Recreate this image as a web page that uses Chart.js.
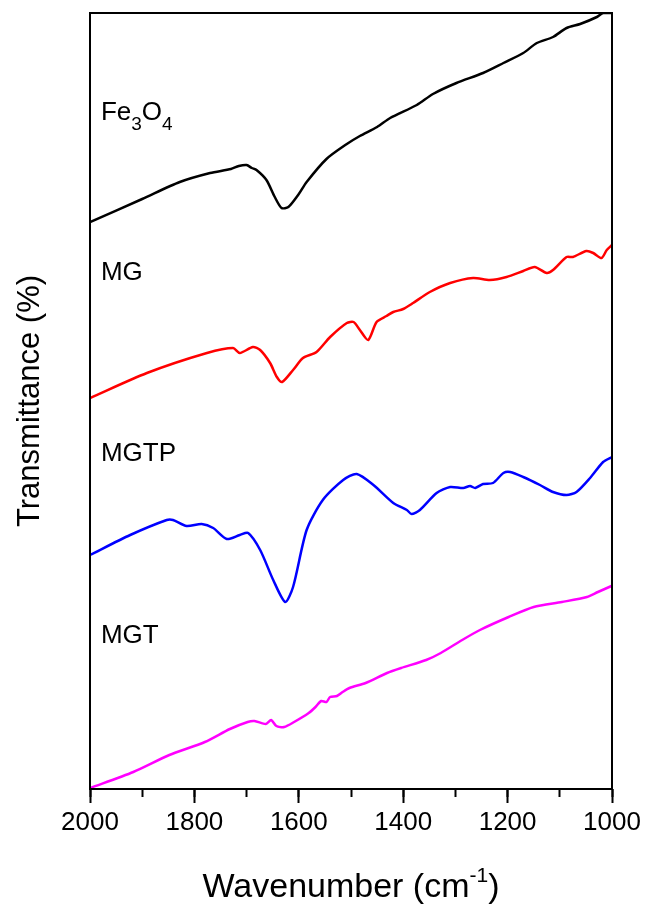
<!DOCTYPE html>
<html>
<head>
<meta charset="utf-8">
<script src="https://cdn.jsdelivr.net/npm/chart.js@4.4.1/dist/chart.umd.min.js"></script>
<style>
  html, body { margin: 0; padding: 0; background: #fff; }
  #wrap { width: 647px; height: 905px; }
</style>
</head>
<body>
<div id="wrap"><canvas id="ftirChart" width="647" height="905"></canvas></div>
<script>
// x axis ticks (wavenumber, cm-1)
var wnTicks = [2000, 1800, 1600, 1400, 1200, 1000];

// spectra (arbitrary transmittance units, stacked)
var fe3o4Wn = [2000, 1900, 1828, 1770, 1730, 1715, 1700, 1690, 1681, 1662, 1646, 1633, 1620, 1600, 1585, 1547, 1508, 1483, 1450, 1425, 1374, 1343, 1298, 1247, 1208, 1170, 1144, 1113, 1087, 1061, 1029, 1017, 1000];
var fe3o4T  = [567, 590, 607, 616, 620, 623, 624, 621, 619, 609, 592, 581, 582, 595, 607, 630, 645, 653, 662, 671, 684, 695, 706, 716, 726, 736, 746, 752, 761, 765, 772, 776, 776];

var mgWn = [2000, 1891, 1776, 1726, 1713, 1688, 1674, 1655, 1642, 1632, 1611, 1592, 1566, 1540, 1508, 1495, 1483, 1467, 1451, 1432, 1419, 1400, 1381, 1349, 1310, 1266, 1234, 1202, 1170, 1148, 1125, 1113, 1087, 1075, 1049, 1036, 1020, 1010, 1000];
var mgT  = [391, 416, 436, 441, 436, 442, 439, 426, 412, 407, 419, 431, 437, 452, 466, 467, 459, 449, 467, 473, 477, 480, 486, 497, 506, 511, 509, 512, 518, 522, 516, 519, 532, 532, 538, 536, 531, 539, 544];

var mgtpWn = [2000, 1923, 1853, 1841, 1815, 1786, 1764, 1738, 1713, 1697, 1674, 1649, 1626, 1611, 1585, 1554, 1515, 1489, 1457, 1419, 1393, 1384, 1368, 1336, 1310, 1285, 1272, 1262, 1247, 1228, 1208, 1195, 1170, 1138, 1113, 1087, 1068, 1042, 1017, 1000];
var mgtpT  = [234, 254, 269, 269, 263, 265, 261, 250, 254, 256, 239, 209, 187, 202, 259, 289, 309, 315, 304, 286, 279, 275, 279, 296, 302, 301, 303, 301, 305, 306, 316, 317, 312, 304, 297, 294, 297, 311, 327, 332];

var mgtWn = [2000, 1917, 1848, 1780, 1732, 1698, 1685, 1663, 1653, 1643, 1628, 1609, 1581, 1568, 1557, 1547, 1540, 1527, 1516, 1503, 1472, 1431, 1404, 1356, 1328, 1287, 1253, 1198, 1150, 1096, 1048, 1027, 1001];
var mgtT  = [1, 17, 34, 47, 60, 67, 68, 65, 69, 63, 62, 67, 76, 82, 88, 87, 92, 93, 97, 101, 106, 116, 121, 129, 136, 149, 159, 172, 182, 187, 192, 197, 203];

// sample names and where their text sits (wavenumber, transmittance)
var sampleNames = ['Fe3O4', 'MG', 'MGTP', 'MGT'];
var nameWn = [1979, 1979, 1979, 1979];
var nameT  = [669, 509, 328, 146];

function toPoints(xs, ys) {
  return xs.map(function(x, i) { return { x: x, y: ys[i] }; });
}

function makeSet(label, xs, ys, color) {
  return {
    label: label,
    data: toPoints(xs, ys),
    borderColor: color,
    backgroundColor: color,
    borderWidth: 2.5,
    pointRadius: 0,
    tension: 0.25,
    fill: false
  };
}

var FONT = "'Liberation Sans', Arial, sans-serif";

// frame round the plot area
var framePlugin = {
  id: 'frame',
  afterDraw: function(chart) {
    var a = chart.chartArea, ctx = chart.ctx;
    ctx.save();
    ctx.strokeStyle = '#000';
    ctx.lineWidth = 2;
    ctx.strokeRect(a.left, a.top, a.right - a.left, a.bottom - a.top);
    ctx.restore();
  }
};

// sample names next to each curve, and the x title with its superscript
var textPlugin = {
  id: 'texts',
  afterDatasetsDraw: function(chart) {
    var ctx = chart.ctx;
    var xs = chart.scales.x, ys = chart.scales.y;
    ctx.save();
    ctx.fillStyle = '#000';
    ctx.textBaseline = 'alphabetic';
    ctx.textAlign = 'left';
    sampleNames.forEach(function(name, i) {
      var px = xs.getPixelForValue(nameWn[i]);
      var py = ys.getPixelForValue(nameT[i]);
      if (name === 'Fe3O4') {
        var parts = [['Fe', 0, 26], ['3', 1, 19], ['O', 0, 26], ['4', 1, 19]];
        parts.forEach(function(p) {
          ctx.font = p[2] + 'px ' + FONT;
          ctx.fillText(p[0], px, py + (p[1] ? 10 : 0));
          px += ctx.measureText(p[0]).width;
        });
      } else {
        ctx.font = '26px ' + FONT;
        ctx.fillText(name, px, py);
      }
    });

    // x axis title
    var a = chart.chartArea;
    var main = 'Wavenumber (cm', sup = '-1', close = ')';
    ctx.font = '34px ' + FONT;
    var w1 = ctx.measureText(main).width, w3 = ctx.measureText(close).width;
    ctx.font = '21px ' + FONT;
    var w2 = ctx.measureText(sup).width;
    var x0 = (a.left + a.right) / 2 - (w1 + w2 + w3) / 2;
    var base = 897;
    ctx.font = '34px ' + FONT;
    ctx.fillText(main, x0, base);
    ctx.font = '21px ' + FONT;
    ctx.fillText(sup, x0 + w1, base - 15);
    ctx.font = '34px ' + FONT;
    ctx.fillText(close, x0 + w1 + w2, base);
    ctx.restore();
  }
};

var ctx = document.getElementById('ftirChart').getContext('2d');
var ftirChart = new Chart(ctx, {
  type: 'line',
  data: {
    datasets: [
      makeSet('Fe3O4', fe3o4Wn, fe3o4T, '#000000'),
      makeSet('MG', mgWn, mgT, '#ff0000'),
      makeSet('MGTP', mgtpWn, mgtpT, '#0000ff'),
      makeSet('MGT', mgtWn, mgtT, '#ff00ff')
    ]
  },
  plugins: [framePlugin, textPlugin],
  options: {
    responsive: false,
    animation: false,
    layout: { padding: { left: 0, right: 35, top: 13, bottom: 0 } },
    plugins: {
      legend: { display: false },
      tooltip: { enabled: false }
    },
    scales: {
      x: {
        type: 'linear',
        position: 'bottom',
        weight: 1,
        reverse: true,
        min: 1000,
        max: 2000,
        afterBuildTicks: function(scale) {
          scale.ticks = wnTicks.map(function(v) { return { value: v }; });
        },
        ticks: {
          color: '#000',
          font: { family: FONT, size: 26 },
          padding: 4,
          maxRotation: 0,
          autoSkip: false,
          callback: function(v) { return String(v); }
        },
        grid: {
          drawOnChartArea: false,
          tickLength: 14,
          tickWidth: 2,
          tickColor: '#000'
        },
        border: { display: false },
        afterFit: function(scale) { scale.height = 116; }
      },
      xMinor: {
        type: 'linear',
        position: 'bottom',
        weight: 0,
        reverse: true,
        min: 1000,
        max: 2000,
        ticks: { display: false, stepSize: 100 },
        grid: {
          drawOnChartArea: false,
          tickLength: 8,
          tickWidth: 2,
          tickColor: '#000'
        },
        border: { display: false },
        afterFit: function(scale) { scale.height = 0; }
      },
      y: {
        min: 0,
        max: 776,
        ticks: { display: false },
        grid: { display: false },
        border: { display: false },
        title: {
          display: true,
          text: 'Transmittance (%)',
          color: '#000',
          font: { family: FONT, size: 31 },
          padding: { top: 12, bottom: 0 }
        },
        afterFit: function(scale) { scale.width = 90; }
      }
    }
  }
});
</script>
</body>
</html>
